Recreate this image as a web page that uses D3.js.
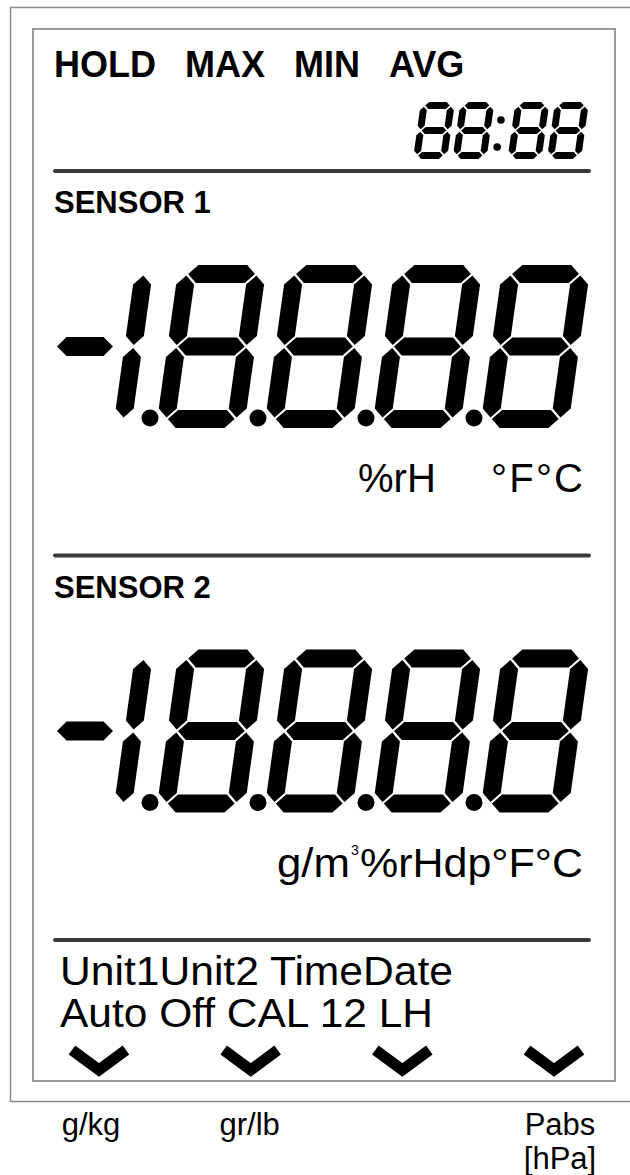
<!DOCTYPE html>
<html>
<head>
<meta charset="utf-8">
<script src="https://cdn.jsdelivr.net/npm/d3@7"></script>
<style>
  body { margin: 0; background: #fff; }
  text { font-family: "Liberation Sans", Arial, sans-serif; fill: #000; }
</style>
</head>
<body>
<div id="lcd"></div>
<script>
// display content
var modeLabels = ["HOLD", "MAX", "MIN", "AVG"];
var clockChars = ["8", "8", ":", "8", "8"];
var sensorNames = ["SENSOR 1", "SENSOR 2"];
var sensorReadings = ["-1.8.8.8.8", "-1.8.8.8.8"];
var unitRow1 = ["%rH", "°F°C"];
var unitRow2 = ["g/m", "3", "%rHdp°F°C"];
var menuLines = ["Unit1Unit2 TimeDate", "Auto Off CAL 12 LH"];
var keyLabels = [["g/kg"], ["gr/lb"], [], ["Pabs", "[hPa]"]];
var segMap = {
  "0": "abcdef", "1": "bc", "2": "abdeg", "3": "abcdg", "4": "bcfg",
  "5": "acdfg", "6": "acdefg", "7": "abc", "8": "abcdefg", "9": "abcdfg"
};

var svgWidth = 630;
var svgHeight = 1175;

var svg = d3.select("#lcd")
  .append("svg")
  .attr("width", svgWidth)
  .attr("height", svgHeight);

svg.append("rect")
  .attr("width", svgWidth)
  .attr("height", svgHeight)
  .attr("fill", "#fff");

// frames
svg.append("path")
  .attr("d", "M640,7.5 H10.5 V1101.5 H640")
  .attr("fill", "none")
  .attr("stroke", "#8a8a8a")
  .attr("stroke-width", 1.5);

svg.append("rect")
  .attr("x", 33)
  .attr("y", 29)
  .attr("width", 582)
  .attr("height", 1052)
  .attr("fill", "none")
  .attr("stroke", "#9a9a9a")
  .attr("stroke-width", 2);

// segment helpers
function hexH(x0, x1, yc, t) {
  return [[x0, yc], [x0 + t / 2, yc - t / 2], [x1 - t / 2, yc - t / 2],
          [x1, yc], [x1 - t / 2, yc + t / 2], [x0 + t / 2, yc + t / 2]];
}
function hexV(xc, y0, y1, t) {
  return [[xc, y0], [xc + t / 2, y0 + t / 2], [xc + t / 2, y1 - t / 2],
          [xc, y1], [xc - t / 2, y1 - t / 2], [xc - t / 2, y0 + t / 2]];
}
function segments(W, H, t, g) {
  return {
    a: hexH(t / 2 + g, W - t / 2 - g, t / 2, t),
    b: hexV(W - t / 2, t / 2 + g, H / 2 - g, t),
    c: hexV(W - t / 2, H / 2 + g, H - t / 2 - g, t),
    d: hexH(t / 2 + g, W - t / 2 - g, H - t / 2, t),
    e: hexV(t / 2, H / 2 + g, H - t / 2 - g, t),
    f: hexV(t / 2, t / 2 + g, H / 2 - g, t),
    g: hexH(t / 2 + g, W - t / 2 - g, H / 2, t)
  };
}

var slant = 0.14;
var skewDeg = -Math.atan(slant) * 180 / Math.PI;

function drawDigit(parent, ch, x0, top, geo) {
  var segs = segments(geo.W, geo.H, geo.t, geo.g);
  var on = segMap[ch] || "";
  var g = parent.append("g")
    .attr("transform", `translate(${x0 + slant * geo.H}, ${top}) skewX(${skewDeg})`);
  g.selectAll("polygon")
    .data(on.split(""))
    .enter()
    .append("polygon")
    .attr("points", d => segs[d].map(p => p.join(",")).join(" "))
    .attr("fill", "#000");
}

// mode labels
var modeGroup = svg.append("g");
var modeX = 54;
modeLabels.forEach(function (label) {
  var t = modeGroup.append("text")
    .attr("x", modeX)
    .attr("y", 77)
    .attr("font-size", "36px")
    .attr("font-weight", "bold")
    .text(label);
  modeX += t.node().getComputedTextLength() + 29;
});

// clock
var clockGeo = { W: 34, H: 57, t: 7, g: 1.2 };
var clockGroup = svg.append("g");
var clockX = 413;
clockChars.forEach(function (ch) {
  if (ch === ":") {
    [18, 45].forEach(function (v) {
      clockGroup.append("circle")
        .attr("cx", clockX + 3.5 + slant * (clockGeo.H - v))
        .attr("cy", 102 + v)
        .attr("r", 3.8)
        .attr("fill", "#000");
    });
    clockX += 15.5;
  } else {
    drawDigit(clockGroup, ch, clockX, 102, clockGeo);
    clockX += 39.5;
  }
});

// sensor blocks
var blockY = d3.scaleLinear().domain([0, 1]).range([0, 384.5]);
var slotX = d3.scaleLinear().domain([0, 1]).range([156, 264]);
var bigGeo = { W: 88, H: 163, t: 18, g: 1.6 };

function divider(y) {
  svg.append("line")
    .attr("x1", 55).attr("x2", 589)
    .attr("y1", y).attr("y2", y)
    .attr("stroke", "#3a3a3a")
    .attr("stroke-width", 4)
    .attr("stroke-linecap", "round");
}

sensorNames.forEach(function (name, i) {
  var off = blockY(i);
  divider(171 + off);

  svg.append("text")
    .attr("x", 54)
    .attr("y", 213 + off)
    .attr("font-size", "31px")
    .attr("font-weight", "bold")
    .text(name);

  var top = 265 + off;
  var row = svg.append("g");
  var slot = -1;
  sensorReadings[i].split("").forEach(function (ch) {
    if (ch === "-") {
      var cy = top + bigGeo.H / 2;
      row.append("polygon")
        .attr("points", hexH(57, 113, cy, 19).map(p => p.join(",")).join(" "))
        .attr("fill", "#000");
    } else if (ch === ".") {
      // decimal point sits just before the next slot
      row.append("circle")
        .attr("cx", slotX(slot) - 6)
        .attr("cy", top + bigGeo.H - 10)
        .attr("r", 8.5)
        .attr("fill", "#000");
    } else {
      // leading half digit sits a little closer
      var x0 = slot < 0 ? slotX(slot) - 5 : slotX(slot);
      drawDigit(row, ch, x0, top, bigGeo);
      slot += 1;
    }
  });
});

// units
svg.append("text")
  .attr("x", 358).attr("y", 492)
  .attr("font-size", "40px")
  .text(unitRow1[0]);
svg.append("text")
  .attr("x", 491).attr("y", 492)
  .attr("font-size", "40px")
  .attr("textLength", 92)
  .attr("lengthAdjust", "spacing")
  .text(unitRow1[1]);

var u2y = 492 + blockY(1);
svg.append("text")
  .attr("x", 277).attr("y", u2y)
  .attr("font-size", "40px")
  .attr("textLength", 73)
  .attr("lengthAdjust", "spacingAndGlyphs")
  .text(unitRow2[0]);
svg.append("text")
  .attr("x", 351).attr("y", u2y - 22)
  .attr("font-size", "14px")
  .text(unitRow2[1]);
svg.append("text")
  .attr("x", 360).attr("y", u2y)
  .attr("font-size", "40px")
  .attr("textLength", 223)
  .attr("lengthAdjust", "spacingAndGlyphs")
  .text(unitRow2[2]);

divider(171 + blockY(2));

// menu text
var menuLens = [393, 373];
menuLines.forEach(function (line, i) {
  svg.append("text")
    .attr("x", 60)
    .attr("y", 985 + i * 42)
    .attr("font-size", "40px")
    .attr("textLength", menuLens[i])
    .attr("lengthAdjust", "spacingAndGlyphs")
    .text(line);
});

// key chevrons and labels
var keyX = d3.scalePoint()
  .domain(d3.range(keyLabels.length))
  .range([99, 554]);

svg.selectAll(".chev")
  .data(keyLabels)
  .enter()
  .append("polyline")
  .attr("class", "chev")
  .attr("points", (d, i) => {
    var c = keyX(i);
    return `${c - 27},1050 ${c},1070 ${c + 27},1050`;
  })
  .attr("fill", "none")
  .attr("stroke", "#000")
  .attr("stroke-width", 11)
  .attr("stroke-linejoin", "miter");

var labelShift = [-8, -1, 0, 6];
keyLabels.forEach(function (lines, i) {
  lines.forEach(function (txt, j) {
    svg.append("text")
      .attr("x", keyX(i) + labelShift[i])
      .attr("y", 1135 + j * 34)
      .attr("font-size", "31px")
      .attr("text-anchor", "middle")
      .text(txt);
  });
});
</script>
</body>
</html>
